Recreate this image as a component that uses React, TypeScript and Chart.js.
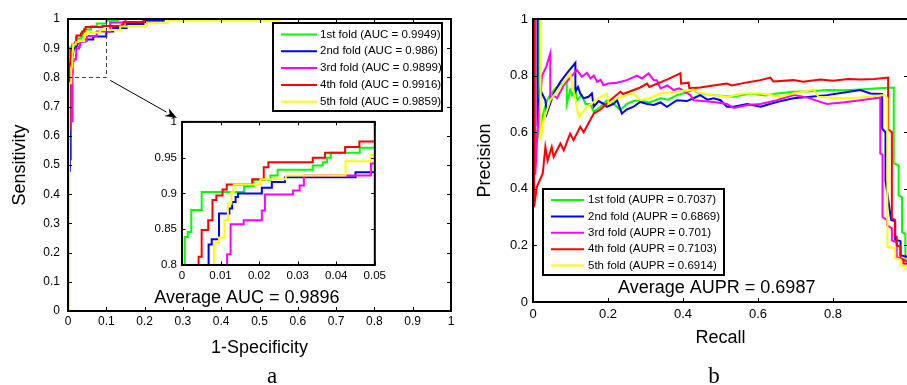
import React, { useEffect, useRef } from 'react';
import { Chart, registerables } from 'chart.js';

Chart.register(...registerables);

// ---------------- data ----------------
const FOLD_NAMES = ['1st fold', '2nd fold', '3rd fold', '4th fold', '5th fold'];
const AUC_VALUES = ['0.9949', '0.986', '0.9899', '0.9916', '0.9859'];
const AUPR_VALUES = ['0.7037', '0.6869', '0.701', '0.7103', '0.6914'];
const AVERAGE_AUC = '0.9896';
const AVERAGE_AUPR = '0.6987';

const ROC_X_TICKS = [0, 0.1, 0.2, 0.3, 0.4, 0.5, 0.6, 0.7, 0.8, 0.9, 1];
const ROC_Y_TICKS = [0, 0.1, 0.2, 0.3, 0.4, 0.5, 0.6, 0.7, 0.8, 0.9, 1];
const INSET_X_TICKS = [0, 0.01, 0.02, 0.03, 0.04, 0.05];
const INSET_Y_TICKS = [0.8, 0.85, 0.9, 0.95, 1];
const PR_X_TICKS = [0, 0.2, 0.4, 0.6, 0.8];
const PR_Y_TICKS = [0, 0.2, 0.4, 0.6, 0.8, 1];

// ROC curves (1-specificity, sensitivity) – step corners
const ROC_FPR_1 = [0, 0.0007, 0.0015, 0.0024, 0.0051, 0.0161, 0.0186, 0.0229, 0.0248, 0.0339, 0.0365, 0.0376, 0.0386, 0.0461, 0.06, 0.075, 0.1, 0.13, 1];
const ROC_TPR_1 = [0, 0.839, 0.846, 0.877, 0.902, 0.91, 0.919, 0.925, 0.933, 0.939, 0.9435, 0.95, 0.957, 0.964, 0.975, 0.985, 0.995, 1, 1];
const ROC_FPR_2 = [0, 0, 0.005, 0.0069, 0.0077, 0.0096, 0.0123, 0.013, 0.0139, 0.0145, 0.0207, 0.0233, 0.0267, 0.045, 0.066, 0.1, 0.118, 0.153, 0.197, 0.25, 1];
const ROC_TPR_2 = [0, 0.48, 0.52, 0.8287, 0.836, 0.872, 0.879, 0.888, 0.895, 0.9, 0.908, 0.916, 0.9227, 0.9296, 0.94, 0.957, 0.969, 0.983, 0.994, 1, 1];
const ROC_FPR_3 = [0, 0, 0.0117, 0.0126, 0.016, 0.0207, 0.0215, 0.0288, 0.0305, 0.0316, 0.049, 0.075, 0.11, 0.15, 1];
const ROC_TPR_3 = [0, 0.65, 0.815, 0.857, 0.8625, 0.876, 0.8986, 0.904, 0.911, 0.925, 0.942, 0.957, 0.988, 1, 1];
const ROC_FPR_4 = [0, 0, 0.0043, 0.0051, 0.0068, 0.0079, 0.0089, 0.0105, 0.0116, 0.0182, 0.0212, 0.0224, 0.0339, 0.0371, 0.0423, 0.046, 0.09, 0.14, 0.145, 0.2, 1];
const ROC_TPR_4 = [0, 0.62, 0.8116, 0.849, 0.8625, 0.891, 0.897, 0.9056, 0.9125, 0.92, 0.9366, 0.9435, 0.95, 0.957, 0.965, 0.9727, 0.976, 0.98, 0.99, 1, 1];
const ROC_FPR_5 = [0, 0.003, 0.0083, 0.0096, 0.011, 0.0119, 0.0128, 0.0134, 0.0203, 0.0269, 0.0424, 0.049, 0.084, 0.136, 0.205, 0.26, 0.553, 1];
const ROC_TPR_5 = [0, 0.78, 0.831, 0.8384, 0.8625, 0.8856, 0.902, 0.9125, 0.92, 0.925, 0.945, 0.9537, 0.962, 0.974, 0.987, 0.995, 1, 1];

// PR curves (recall, precision)
const PR_RECALL_1 = [0, 0.016, 0.016, 0.02, 0.03, 0.04, 0.05, 0.06, 0.07, 0.08, 0.09, 0.09, 0.099, 0.104, 0.113, 0.117, 0.13, 0.14, 0.153, 0.162, 0.18, 0.197, 0.215, 0.233, 0.25, 0.268, 0.286, 0.31, 0.34, 0.36, 0.384, 0.41, 0.428, 0.44, 0.482, 0.535, 0.579, 0.62, 0.65, 0.695, 0.74, 0.784, 0.83, 0.873, 0.92, 0.962, 0.962, 0.975, 0.975, 0.984, 0.984, 0.993, 0.993, 1];
const PR_PRECISION_1 = [1, 1, 0.6, 0.62, 0.68, 0.72, 0.74, 0.755, 0.765, 0.775, 0.785, 0.7, 0.749, 0.73, 0.755, 0.713, 0.73, 0.7, 0.7, 0.672, 0.69, 0.713, 0.7, 0.678, 0.7, 0.71, 0.713, 0.705, 0.72, 0.715, 0.731, 0.74, 0.751, 0.738, 0.731, 0.725, 0.737, 0.73, 0.737, 0.743, 0.745, 0.749, 0.748, 0.751, 0.755, 0.758, 0.49, 0.483, 0.377, 0.37, 0.247, 0.24, 0.147, 0.145];
const PR_RECALL_2 = [0, 0.012, 0.012, 0.0195, 0.033, 0.037, 0.055, 0.073, 0.09, 0.113, 0.113, 0.12, 0.126, 0.135, 0.148, 0.157, 0.162, 0.175, 0.188, 0.197, 0.215, 0.224, 0.237, 0.25, 0.268, 0.286, 0.305, 0.322, 0.34, 0.357, 0.384, 0.41, 0.428, 0.446, 0.465, 0.482, 0.5, 0.517, 0.535, 0.571, 0.607, 0.65, 0.695, 0.74, 0.784, 0.83, 0.873, 0.9, 0.931, 0.931, 0.94, 0.94, 0.955, 0.966, 0.966, 0.98, 0.98, 1];
const PR_PRECISION_2 = [1, 1, 0.62, 0.749, 0.713, 0.666, 0.737, 0.778, 0.808, 0.845, 0.743, 0.76, 0.737, 0.72, 0.725, 0.737, 0.69, 0.71, 0.7, 0.69, 0.7, 0.713, 0.666, 0.68, 0.69, 0.707, 0.7, 0.696, 0.705, 0.69, 0.713, 0.71, 0.72, 0.731, 0.715, 0.72, 0.713, 0.69, 0.69, 0.7, 0.69, 0.707, 0.72, 0.725, 0.731, 0.74, 0.749, 0.737, 0.735, 0.613, 0.6, 0.43, 0.29, 0.285, 0.22, 0.215, 0.165, 0.159];
const PR_RECALL_3 = [0, 0.006, 0.006, 0.012, 0.024, 0.035, 0.046, 0.046, 0.055, 0.064, 0.082, 0.104, 0.117, 0.13, 0.144, 0.153, 0.162, 0.171, 0.18, 0.188, 0.2, 0.224, 0.25, 0.277, 0.29, 0.308, 0.322, 0.33, 0.34, 0.358, 0.375, 0.39, 0.42, 0.428, 0.482, 0.517, 0.535, 0.571, 0.607, 0.65, 0.695, 0.73, 0.766, 0.784, 0.83, 0.873, 0.926, 0.926, 0.932, 0.932, 0.944, 0.944, 0.957, 0.957, 0.97, 0.97, 1];
const PR_PRECISION_3 = [1, 1, 0.45, 0.6, 0.8, 0.83, 0.878, 0.72, 0.73, 0.72, 0.766, 0.8, 0.82, 0.796, 0.81, 0.79, 0.8, 0.778, 0.785, 0.766, 0.772, 0.775, 0.784, 0.8, 0.79, 0.808, 0.784, 0.784, 0.755, 0.765, 0.749, 0.755, 0.731, 0.713, 0.707, 0.7, 0.686, 0.696, 0.7, 0.713, 0.731, 0.723, 0.707, 0.7, 0.706, 0.713, 0.723, 0.525, 0.52, 0.3, 0.29, 0.271, 0.26, 0.218, 0.21, 0.159, 0.141];
const PR_RECALL_4 = [0.003, 0.003, 0.01, 0.026, 0.033, 0.039, 0.05, 0.055, 0.073, 0.082, 0.099, 0.108, 0.126, 0.135, 0.162, 0.18, 0.206, 0.233, 0.24, 0.286, 0.304, 0.31, 0.357, 0.393, 0.395, 0.415, 0.417, 0.446, 0.48, 0.517, 0.53, 0.57, 0.606, 0.633, 0.641, 0.695, 0.72, 0.766, 0.8, 0.84, 0.873, 0.91, 0.947, 0.947, 0.957, 0.957, 0.965, 0.965, 0.97, 0.97, 0.98, 0.98, 0.988, 0.988, 1];
const PR_PRECISION_4 = [1, 0.335, 0.406, 0.454, 0.548, 0.5, 0.548, 0.513, 0.56, 0.536, 0.595, 0.572, 0.619, 0.6, 0.666, 0.68, 0.713, 0.743, 0.735, 0.758, 0.772, 0.76, 0.786, 0.808, 0.772, 0.775, 0.755, 0.758, 0.765, 0.772, 0.765, 0.776, 0.784, 0.793, 0.779, 0.784, 0.778, 0.786, 0.782, 0.788, 0.786, 0.788, 0.793, 0.61, 0.6, 0.295, 0.29, 0.235, 0.23, 0.2, 0.195, 0.155, 0.15, 0.136, 0.135];
const PR_RECALL_5 = [0, 0.02, 0.02, 0.028, 0.046, 0.073, 0.099, 0.122, 0.144, 0.162, 0.18, 0.197, 0.201, 0.224, 0.25, 0.268, 0.286, 0.31, 0.34, 0.384, 0.428, 0.44, 0.482, 0.517, 0.562, 0.607, 0.66, 0.695, 0.748, 0.761, 0.8, 0.829, 0.873, 0.937, 0.945, 0.945, 0.966, 0.966, 0.98, 0.98, 0.993, 0.993, 1];
const PR_PRECISION_5 = [1, 1, 0.572, 0.642, 0.713, 0.76, 0.808, 0.654, 0.69, 0.707, 0.725, 0.737, 0.7, 0.72, 0.731, 0.737, 0.713, 0.72, 0.737, 0.743, 0.751, 0.74, 0.731, 0.725, 0.737, 0.737, 0.725, 0.737, 0.751, 0.725, 0.722, 0.72, 0.723, 0.731, 0.72, 0.194, 0.19, 0.155, 0.15, 0.13, 0.125, 0.118, 0.115];

// ---------------- styles ----------------
const FOLD_COLORS = ['#00ff00', '#0000ff', '#ff00ff', '#ff0000', '#ffff00'];
const FONT = "'Liberation Sans', Arial, Helvetica, sans-serif";
const SERIF = "'Liberation Serif', 'Times New Roman', serif";

const ROC_SERIES: [number[], number[]][] = [
  [ROC_FPR_1, ROC_TPR_1], [ROC_FPR_2, ROC_TPR_2], [ROC_FPR_3, ROC_TPR_3], [ROC_FPR_4, ROC_TPR_4], [ROC_FPR_5, ROC_TPR_5],
];
const PR_SERIES: [number[], number[]][] = [
  [PR_RECALL_1, PR_PRECISION_1], [PR_RECALL_2, PR_PRECISION_2], [PR_RECALL_3, PR_PRECISION_3], [PR_RECALL_4, PR_PRECISION_4], [PR_RECALL_5, PR_PRECISION_5],
];

function makeDatasets(series: [number[], number[]][], stepped: boolean) {
  return series.map(([xs, ys], i) => ({
    label: FOLD_NAMES[i],
    data: xs.map((x, k) => ({ x, y: ys[k] })),
    borderColor: FOLD_COLORS[i],
    backgroundColor: FOLD_COLORS[i],
    borderWidth: 2,
    pointRadius: 0,
    pointHoverRadius: 0,
    fill: false,
    tension: 0,
    stepped: stepped ? 'before' : false,
    order: series.length - 1 - i,
  }));
}

function axis(o: {
  min: number; max: number; ticks: number[]; fontSize: number; padding: number; size: number;
  vertical: boolean; title?: string; titlePad?: number;
}) {
  return {
    type: 'linear',
    position: o.vertical ? 'left' : 'bottom',
    min: o.min,
    max: o.max,
    afterBuildTicks: (s: any) => { s.ticks = o.ticks.map((v) => ({ value: v })); },
    afterFit: (s: any) => { if (o.vertical) s.width = o.size; else s.height = o.size; },
    ticks: {
      callback: (v: any) => String(v),
      color: '#000',
      font: { family: FONT, size: o.fontSize },
      padding: o.padding,
      autoSkip: false,
      maxRotation: 0,
      minRotation: 0,
    },
    grid: { display: true, drawOnChartArea: false, drawTicks: false },
    border: { display: false },
    title: o.title
      ? {
          display: true,
          text: o.title,
          color: '#000',
          font: { family: FONT, size: 18 },
          padding: o.vertical ? { top: o.titlePad, bottom: 0 } : { top: 0, bottom: o.titlePad },
        }
      : { display: false },
  };
}

const matlabPlugin = {
  id: 'matlab',
  beforeDraw(chart: any, _a: any, opts: any) {
    if (!opts.fillArea) return;
    const { ctx, chartArea: a } = chart;
    ctx.save();
    ctx.fillStyle = '#fff';
    ctx.fillRect(a.left, a.top, a.right - a.left, a.bottom - a.top);
    ctx.restore();
  },
  afterDatasetsDraw(chart: any, _a: any, opts: any) {
    const { ctx, chartArea: a, scales } = chart;
    const xs = scales.x;
    const ys = scales.y;
    ctx.save();

    // zoom box + arrow
    if (opts.zoomBox) {
      const z = opts.zoomBox;
      const x0 = xs.getPixelForValue(z.x0), x1 = xs.getPixelForValue(z.x1);
      const y0 = ys.getPixelForValue(z.y0), y1 = ys.getPixelForValue(z.y1);
      ctx.strokeStyle = '#444';
      ctx.lineWidth = 1;
      ctx.setLineDash([4, 3]);
      ctx.beginPath();
      ctx.moveTo(x0, Math.round(y0) + 0.5);
      ctx.lineTo(Math.round(x1) + 0.5, Math.round(y0) + 0.5);
      ctx.lineTo(Math.round(x1) + 0.5, y1);
      ctx.stroke();
      ctx.setLineDash([]);
      const sx = x1 + 4, sy = y0 + 3;
      const ex = z.arrowTo.x, ey = z.arrowTo.y;
      const ang = Math.atan2(ey - sy, ex - sx);
      const hl = 12, hw = 4.5;
      const bx = ex - hl * Math.cos(ang), by = ey - hl * Math.sin(ang);
      ctx.strokeStyle = '#000';
      ctx.beginPath();
      ctx.moveTo(sx, sy);
      ctx.lineTo(bx, by);
      ctx.stroke();
      ctx.fillStyle = '#000';
      ctx.beginPath();
      ctx.moveTo(ex, ey);
      ctx.lineTo(bx - hw * Math.sin(ang), by + hw * Math.cos(ang));
      ctx.lineTo(ex - (hl * 0.7) * Math.cos(ang), ey - (hl * 0.7) * Math.sin(ang));
      ctx.lineTo(bx + hw * Math.sin(ang), by - hw * Math.cos(ang));
      ctx.closePath();
      ctx.fill();
    }

    // frame
    ctx.strokeStyle = '#000';
    ctx.lineWidth = opts.frameWidth;
    ctx.strokeRect(a.left, a.top, a.right - a.left, a.bottom - a.top);

    // inward ticks
    const tl = opts.tickLength;
    ctx.lineWidth = 1;
    ctx.beginPath();
    xs.ticks.forEach((t: any) => {
      const px = Math.round(xs.getPixelForValue(t.value)) + 0.5;
      ctx.moveTo(px, a.bottom); ctx.lineTo(px, a.bottom - tl);
      ctx.moveTo(px, a.top); ctx.lineTo(px, a.top + tl);
    });
    ys.ticks.forEach((t: any) => {
      const py = Math.round(ys.getPixelForValue(t.value)) + 0.5;
      ctx.moveTo(a.left, py); ctx.lineTo(a.left + tl, py);
      ctx.moveTo(a.right, py); ctx.lineTo(a.right - tl, py);
    });
    ctx.stroke();

    // legend box
    if (opts.legend) {
      const L = opts.legend;
      ctx.fillStyle = '#fff';
      ctx.fillRect(L.x, L.y, L.w, L.h);
      ctx.strokeStyle = '#000';
      ctx.lineWidth = 2;
      ctx.strokeRect(L.x, L.y, L.w, L.h);
      ctx.font = `${L.fontSize}px ${FONT}`;
      ctx.textBaseline = 'middle';
      ctx.textAlign = 'left';
      L.labels.forEach((lab: string, i: number) => {
        const y = L.rowY + i * L.rowGap;
        ctx.strokeStyle = FOLD_COLORS[i];
        ctx.lineWidth = 2;
        ctx.beginPath();
        ctx.moveTo(L.lineX1, y);
        ctx.lineTo(L.lineX2, y);
        ctx.stroke();
        ctx.fillStyle = '#000';
        ctx.fillText(lab, L.textX, y);
      });
    }

    // annotation text
    if (opts.note) {
      const n = opts.note;
      ctx.fillStyle = '#000';
      ctx.font = `${n.fontSize}px ${FONT}`;
      ctx.textAlign = 'center';
      ctx.textBaseline = 'middle';
      ctx.fillText(n.text, xs.getPixelForValue(n.x), ys.getPixelForValue(n.y));
    }
    ctx.restore();
  },
};

function baseOptions(padding: any, scales: any, matlab: any) {
  return {
    animation: false,
    responsive: false,
    devicePixelRatio: 1,
    events: [],
    layout: { padding },
    plugins: { legend: { display: false }, tooltip: { enabled: false }, matlab },
    scales,
  };
}

export default function App() {
  const leftRef = useRef<HTMLCanvasElement>(null);
  const insetRef = useRef<HTMLCanvasElement>(null);
  const rightRef = useRef<HTMLCanvasElement>(null);

  useEffect(() => {
    const rocLabels = FOLD_NAMES.map((n, i) => `${n} (AUC = ${AUC_VALUES[i]})`);
    const prLabels = FOLD_NAMES.map((n, i) => `${n} (AUPR = ${AUPR_VALUES[i]})`);

    const left = new Chart(leftRef.current as HTMLCanvasElement, {
      type: 'line',
      data: { datasets: makeDatasets(ROC_SERIES, true) as any },
      options: baseOptions(
        { left: 0, top: 19, right: 9, bottom: 0 },
        {
          x: axis({ min: 0, max: 1, ticks: ROC_X_TICKS, fontSize: 12, padding: 3.5, size: 74, vertical: false, title: '1-Specificity', titlePad: 26 }),
          y: axis({ min: 0, max: 1, ticks: ROC_Y_TICKS, fontSize: 12, padding: 8, size: 68, vertical: true, title: 'Sensitivity', titlePad: 9 }),
        },
        {
          tickLength: 4,
          frameWidth: 2,
          zoomBox: { x0: 0, x1: 0.1, y0: 0.8, y1: 1, arrowTo: { x: 177, y: 118 } },
          legend: { x: 273, y: 23, w: 169, h: 88, rowY: 34.5, rowGap: 16.8, lineX1: 281, lineX2: 317, textX: 320, fontSize: 11.5, labels: rocLabels },
          note: { text: `Average AUC = ${AVERAGE_AUC}`, x: 0.467, y: 0.045, fontSize: 18 },
        },
      ) as any,
      plugins: [matlabPlugin],
    });

    const inset = new Chart(insetRef.current as HTMLCanvasElement, {
      type: 'line',
      data: { datasets: makeDatasets(ROC_SERIES, true) as any },
      options: baseOptions(
        { left: 0, top: 11, right: 12, bottom: 0 },
        {
          x: axis({ min: 0, max: 0.05, ticks: INSET_X_TICKS, fontSize: 11.5, padding: 4, size: 20, vertical: false }),
          y: axis({ min: 0.8, max: 1, ticks: INSET_Y_TICKS, fontSize: 11.5, padding: 5, size: 32, vertical: true }),
        },
        { tickLength: 3.5, frameWidth: 2, fillArea: true },
      ) as any,
      plugins: [matlabPlugin],
    });

    const right = new Chart(rightRef.current as HTMLCanvasElement, {
      type: 'line',
      data: { datasets: makeDatasets(PR_SERIES, false) as any },
      options: baseOptions(
        { left: 0, top: 19, right: 12, bottom: 0 },
        {
          x: axis({ min: 0, max: 1, ticks: PR_X_TICKS, fontSize: 13, padding: 5, size: 83, vertical: false, title: 'Recall', titlePad: 36 }),
          y: axis({ min: 0, max: 1, ticks: PR_Y_TICKS, fontSize: 13, padding: 5, size: 73, vertical: true, title: 'Precision', titlePad: 14.5 }),
        },
        {
          tickLength: 4,
          frameWidth: 2,
          legend: { x: 83, y: 189, w: 181, h: 86, rowY: 200, rowGap: 16.4, lineX1: 91, lineX2: 124, textX: 128, fontSize: 11.5, labels: prLabels },
          note: { text: `Average AUPR = ${AVERAGE_AUPR}`, x: 0.49, y: 0.051, fontSize: 18 },
        },
      ) as any,
      plugins: [matlabPlugin],
    });

    return () => {
      left.destroy();
      inset.destroy();
      right.destroy();
    };
  }, []);

  const captionStyle: React.CSSProperties = {
    position: 'absolute',
    top: 364,
    width: 40,
    textAlign: 'center',
    fontFamily: SERIF,
    fontSize: 23,
    lineHeight: '23px',
    color: '#000',
  };

  return (
    <div style={{ position: 'fixed', left: 0, top: 0, width: 907, height: 385, overflow: 'hidden', background: '#fff' }}>
      <canvas ref={leftRef} width={460} height={385} style={{ position: 'absolute', left: 0, top: 0, width: 460, height: 385 }} />
      <canvas ref={rightRef} width={460} height={385} style={{ position: 'absolute', left: 460, top: 0, width: 460, height: 385 }} />
      <canvas ref={insetRef} width={240} height={175} style={{ position: 'absolute', left: 150, top: 110, width: 240, height: 175 }} />
      <div style={{ ...captionStyle, left: 272 - 20 }}>a</div>
      <div style={{ ...captionStyle, left: 714 - 20 }}>b</div>
    </div>
  );
}
